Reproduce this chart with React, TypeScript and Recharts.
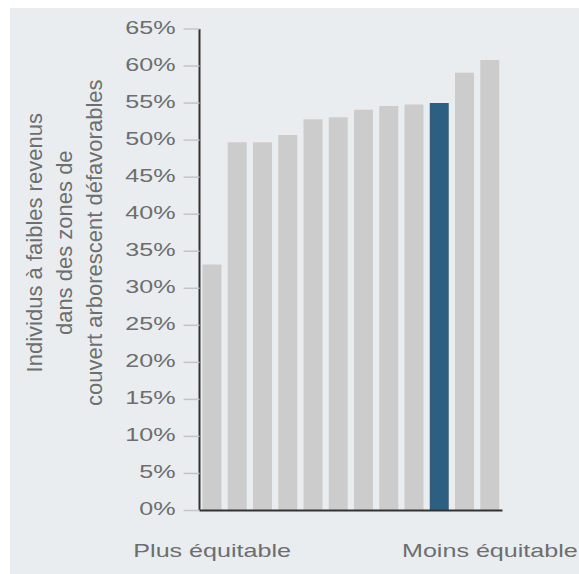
import React from 'react';
import { BarChart, Bar, XAxis, YAxis, Cell, Label } from 'recharts';

// ---- data ----
const categories = ['1', '2', '3', '4', '5', '6', '7', '8', '9', '10', '11', '12'];
const values = [33.2, 49.7, 49.7, 50.7, 52.8, 53.1, 54.1, 54.6, 54.8, 55.0, 59.1, 60.8];
const highlighted = [false, false, false, false, false, false, false, false, false, true, false, false];
const yTicks = [0, 5, 10, 15, 20, 25, 30, 35, 40, 45, 50, 55, 60, 65];
const xTickLabels: Record<string, string> = { '1': 'Plus équitable', '12': 'Moins équitable' };
const yAxisTitle = ['Individus à faibles revenus', 'dans des zones de', 'couvert arborescent défavorables'];

const data = categories.map((c, i) => ({ category: c, value: values[i], highlight: highlighted[i] }));

const FONT = '"Liberation Sans", Arial, Helvetica, sans-serif';
const TEXT = '#6e6e6e';
const GRAY = '#cccccc';
const BLUE = '#2d5f82';
const STRETCH = 1.35;

const YTick = (props: any) => {
  const { x, y, payload } = props;
  return (
    <g transform={`translate(${x},${y})`}>
      <text transform={`scale(${STRETCH},1)`} x={0} y={0} dy={4.6} textAnchor="end" fontSize={18.6} fontFamily={FONT} fill={TEXT}>
        {`${payload.value}%`}
      </text>
    </g>
  );
};

const XTick = (props: any) => {
  const { x, y, payload } = props;
  const label = xTickLabels[payload.value];
  if (!label) return <g />;
  return (
    <g transform={`translate(${x},${y})`}>
      <text transform={`scale(${STRETCH},1)`} x={0} y={0} dy={46.5} textAnchor="middle" fontSize={18.6} fontFamily={FONT} fill={TEXT}>
        {label}
      </text>
    </g>
  );
};

const renderYTitle = (props: any) => {
  const vb = props.viewBox || { x: 0, y: 29, width: 199.5, height: 481.5 };
  const cy = vb.y + vb.height / 2 - 27;
  const xs = [vb.x + 42, vb.x + 72, vb.x + 102];
  return (
    <g>
      {yAxisTitle.map((t, i) => (
        <text
          key={i}
          x={xs[i]}
          y={cy}
          transform={`rotate(-90, ${xs[i]}, ${cy})`}
          textAnchor="middle"
          fontSize={22}
          fontFamily={FONT}
          fill={TEXT}
        >
          {t}
        </text>
      ))}
    </g>
  );
};

export default function App() {
  return (
    <div style={{ position: 'absolute', left: 0, top: 0, width: 579, height: 574, background: '#ffffff' }}>
      <div style={{ position: 'absolute', left: 10, top: 8, width: 569, height: 566, background: '#e9edf0' }} />
      <div style={{ position: 'absolute', left: 0, top: 0 }}>
        <BarChart width={579} height={574} data={data} margin={{ top: 29, right: 76.5, bottom: 0, left: 0 }}>
          <XAxis
            dataKey="category"
            height={63.5}
            interval={0}
            tickLine={false}
            tickSize={0}
            tickMargin={0}
            axisLine={{ stroke: '#333333', strokeWidth: 2 }}
            tick={(p: any) => <XTick {...p} />}
          />
          <YAxis
            width={199.5}
            domain={[0, 65]}
            ticks={yTicks}
            interval={0}
            tickSize={16}
            tickMargin={8}
            tickLine={{ stroke: '#c4c4c4', strokeWidth: 1.5 }}
            axisLine={{ stroke: '#333333', strokeWidth: 2 }}
            tick={(p: any) => <YTick {...p} />}
          >
            <Label content={renderYTitle} />
          </YAxis>
          <Bar dataKey="value" barSize={19} isAnimationActive={false}>
            {data.map((d, i) => (
              <Cell key={i} fill={d.highlight ? BLUE : GRAY} />
            ))}
          </Bar>
        </BarChart>
      </div>
    </div>
  );
}
